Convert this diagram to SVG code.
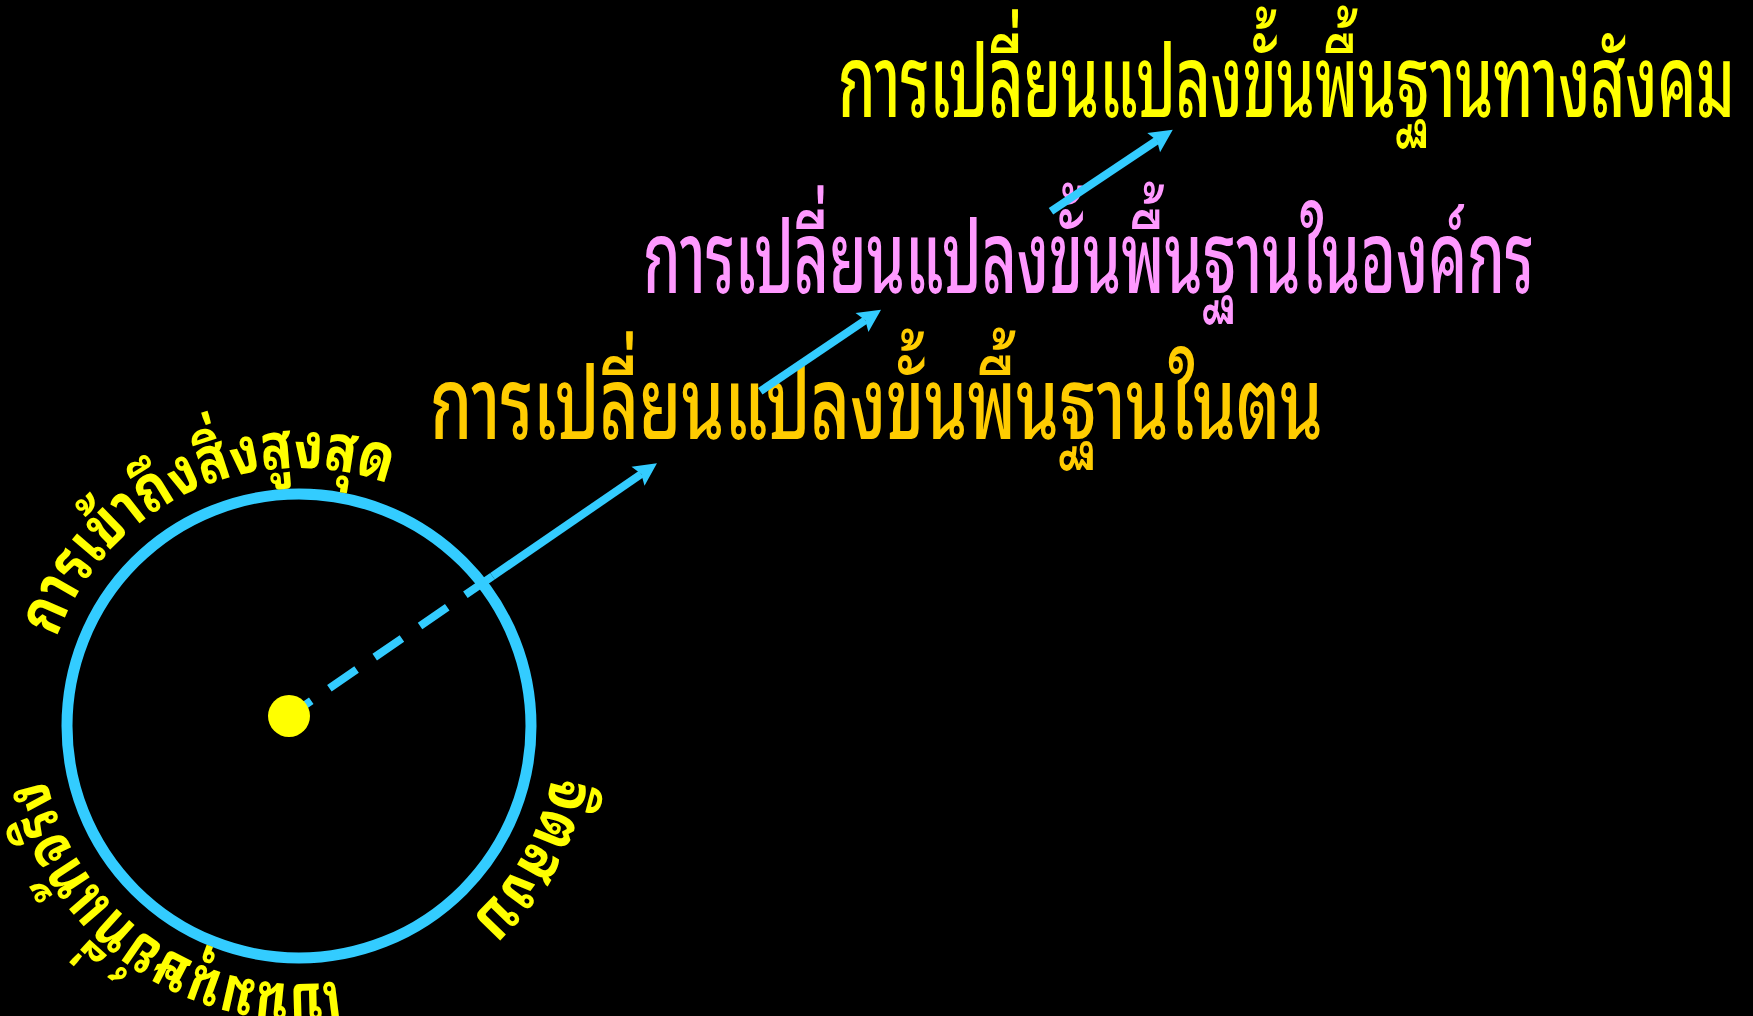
<svg xmlns="http://www.w3.org/2000/svg" width="1753" height="1016" viewBox="0 0 1753 1016">
  <style>
    .title { font-family: "Noto Sans Thai Looped", "Noto Sans Thai", Tahoma, "Noto Sans", sans-serif; font-size: 100px; font-weight: 500; }
    .arc { font-family: "Noto Sans Thai Looped", "Noto Sans Thai", Tahoma, "Noto Sans", sans-serif; font-size: 64px; font-weight: 700; fill: #FFFF00; }
    .conn { stroke: #33CCFF; stroke-width: 8; fill: none; }
  </style>
  <defs>
    <path id="ring" d="M 41,726 A 258 258 0 1 1 557,726 A 258 258 0 1 1 41,726"/>
    <marker id="head" viewBox="0 -12 24 24" refX="4" refY="0" markerWidth="24" markerHeight="24" markerUnits="userSpaceOnUse" orient="auto" overflow="visible">
      <path d="M23,0 L0,-11.5 L4,0 L0,11.5 Z" fill="#33CCFF"/>
    </marker>
  </defs>
  <rect x="0" y="0" width="1753" height="1016" fill="#000000"/>

  <g id="title-society">
    <text class="title" x="838" y="117" fill="#FFFF00" textLength="897" lengthAdjust="spacingAndGlyphs">การเปลี่ยนแปลงขั้นพื้นฐานทางสังคม</text>
  </g>
  <g id="title-organization">
    <text class="title" x="643" y="293" fill="#FF99FF" textLength="891" lengthAdjust="spacingAndGlyphs">การเปลี่ยนแปลงขั้นพื้นฐานในองค์กร</text>
  </g>
  <g id="title-self">
    <text class="title" x="430" y="439" fill="#FFCC00" textLength="893" lengthAdjust="spacingAndGlyphs">การเปลี่ยนแปลงขั้นพื้นฐานในตน</text>
  </g>

  <g id="connectors">
    <line class="conn" x1="289" y1="716" x2="492.5" y2="576.2" stroke-dasharray="33 22" stroke-dashoffset="6"/>
    <line class="conn" x1="492.5" y1="576.2" x2="641.3" y2="474" marker-end="url(#head)"/>
    <line class="conn" x1="760.3" y1="391.3" x2="865.3" y2="320.3" marker-end="url(#head)"/>
    <line class="conn" x1="1051" y1="211.3" x2="1157" y2="140.4" marker-end="url(#head)"/>
  </g>

  <g id="circle">
    <circle cx="299" cy="726" r="232" fill="none" stroke="#33CCFF" stroke-width="11"/>
  </g>
  <g id="center-dot">
    <circle cx="289" cy="716" r="21" fill="#FFFF00"/>
  </g>

  <g id="arc-top">
    <text class="arc"><textPath href="#ring" startOffset="90" textLength="406" lengthAdjust="spacingAndGlyphs">การเข้าถึงสิ่งสูงสุด</textPath></text>
  </g>
  <g id="arc-bottom-right">
    <text class="arc"><textPath href="#ring" startOffset="860" textLength="167" lengthAdjust="spacingAndGlyphs">จิตสงบ</textPath></text>
  </g>
  <g id="arc-bottom-left">
    <text class="arc"><textPath href="#ring" startOffset="1175" textLength="392" lengthAdjust="spacingAndGlyphs">เป็นมนุษย์ที่แท้จริง</textPath></text>
  </g>
</svg>
